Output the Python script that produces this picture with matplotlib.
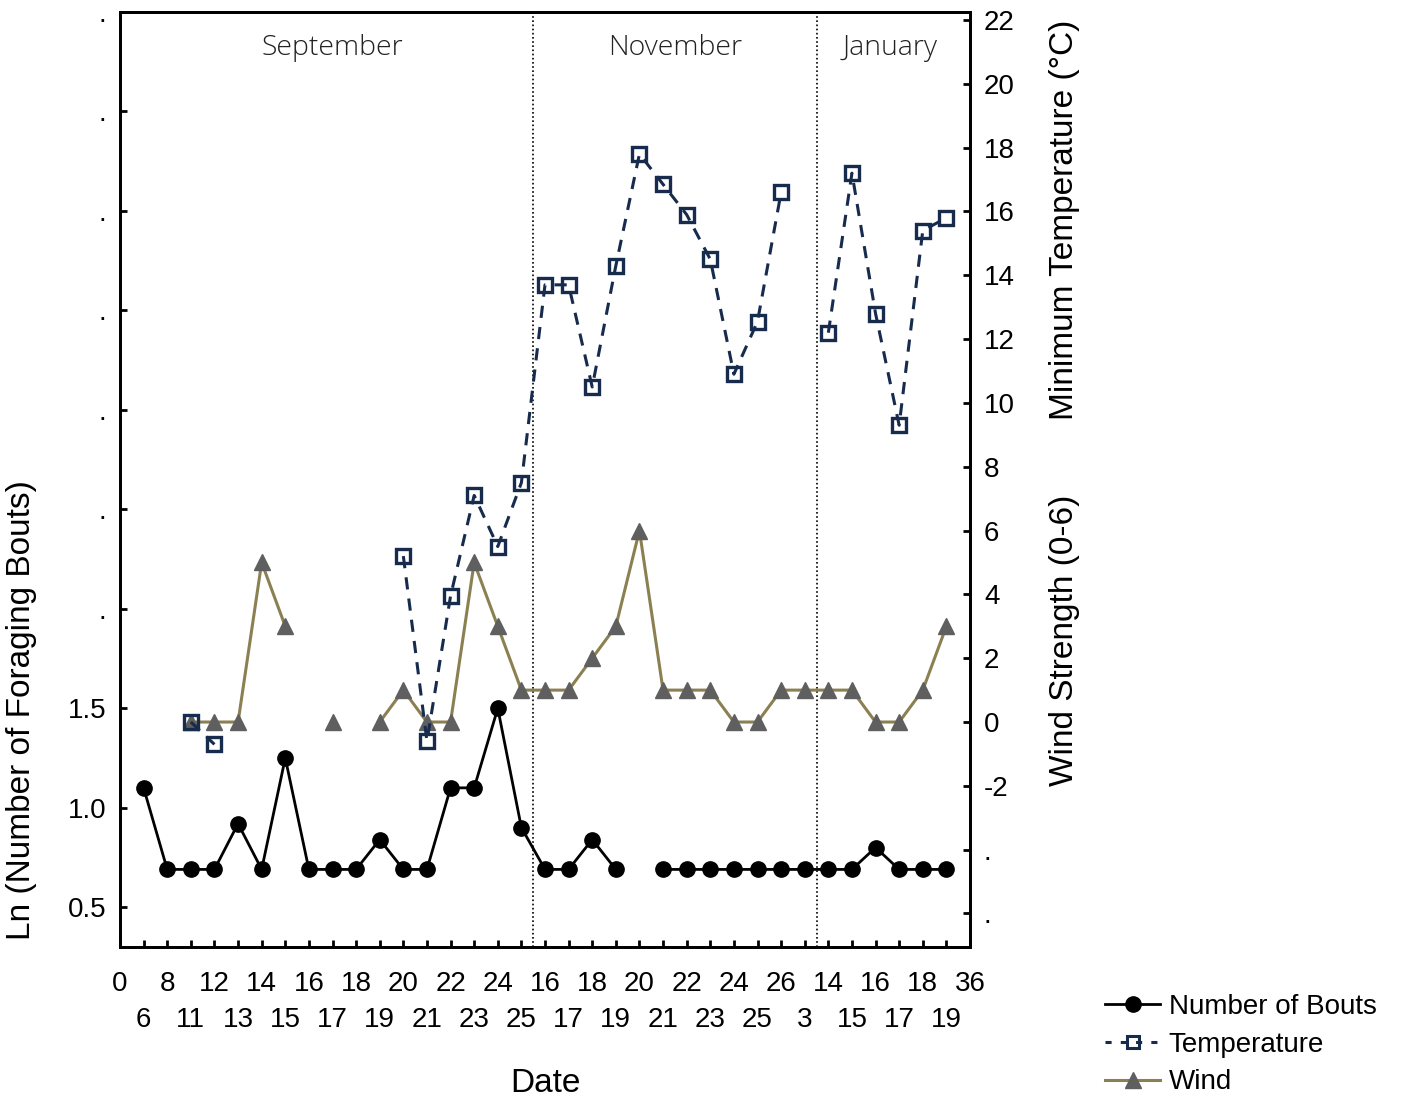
import numpy as np
import matplotlib
matplotlib.use('Agg')
import matplotlib.pyplot as plt
from matplotlib.lines import Line2D

nan = np.nan
# x positions 1..35 (0 and 36 are the axis ends)
pos = np.arange(1, 36)
# Ln(number of foraging bouts)
bouts = [1.10, 0.69, 0.69, 0.69, 0.92, 0.69, 1.25, 0.69, 0.69, 0.69, 0.84, 0.69,
         0.69, 1.10, 1.10, 1.50, 0.90, 0.69, 0.69, 0.84, 0.69, nan, 0.69, 0.69,
         0.69, 0.69, 0.69, 0.69, 0.69, 0.69, 0.69, 0.80, 0.69, 0.69, 0.69]
# minimum temperature (deg C)
temp = [nan, nan, 0.0, -0.7, nan, nan, nan, nan, nan, nan, nan, 5.2,
        -0.6, 3.95, 7.1, 5.5, 7.5, 13.7, 13.7, 10.5, 14.3, 17.8, 16.85, 15.9,
        14.5, 10.9, 12.55, 16.6, nan, 12.2, 17.2, 12.8, 9.3, 15.4, 15.8]
# wind strength (0-6)
wind = [nan, nan, 0, 0, 0, 5, 3, nan, 0, nan, 0, 1,
        0, 0, 5, 3, 1, 1, 1, 2, 3, 6, 1, 1,
        1, 0, 0, 1, 1, 1, 1, 0, 0, 1, 3]

# tick labels along the date axis: upper row at even positions, lower row at odd
upper_labels = ['0', '8', '12', '14', '16', '18', '20', '22', '24', '16',
                '18', '20', '22', '24', '26', '14', '16', '18', '36']
lower_labels = ['6', '11', '13', '15', '17', '19', '21', '23', '25',
                '17', '19', '21', '23', '25', '3', '15', '17', '19']
months = ['September', 'November', 'January']
month_x = [9.0, 23.5, 32.6]
month_breaks = [17.5, 29.5]

plt.rcParams['font.family'] = ['Liberation Sans', 'DejaVu Sans']

fig = plt.figure(figsize=(14.05, 11.02), dpi=100)
ax = fig.add_axes([120/1405, 1-947/1102, 850/1405, 935/1102])
ax2 = ax.twinx()

navy = '#172b4d'
olive = '#8b8052'

ax2.plot(pos, wind, color=olive, lw=2.2, marker='^', ms=12,
         mfc='#5f5f5f', mec='#5f5f5f', zorder=3)
ax2.plot(pos, temp, color=navy, lw=2.2, ls=(0, (4, 3)), marker='s', ms=10.5,
         mfc='none', mec=navy, mew=2.4, zorder=4)
ax.plot(pos, bouts, color='black', lw=2.0, marker='o', ms=11, zorder=3)

for b in month_breaks:
    ax.axvline(b, color='black', lw=1.2, ls=(0, (1, 1.5)))

ax.set_xlim(0, 36)
ax.set_ylim(0.3, 5.0)
ax2.set_ylim(-7.05, 22.25)

ax.set_xticks(np.arange(0, 37, 2))
ax.set_xticklabels(upper_labels)
ax.set_xticks(np.arange(1, 36, 2), minor=True)
ax.set_xticklabels(lower_labels, minor=True)
lt = np.arange(0.5, 5.01, 0.5)
ax.set_yticks(lt)
ax.set_yticklabels(['0.5', '1.0', '1.5'] + ['.'] * (len(lt) - 3))
rt = np.arange(-6, 23, 2)
ax2.set_yticks(rt)
ax2.set_yticklabels(['.', '.'] + [str(v) for v in rt[2:]])

for a in (ax, ax2):
    a.tick_params(which='both', direction='in', length=5, width=2, labelsize=20, pad=10)
    for s in a.spines.values():
        s.set_linewidth(2)
ax.tick_params(axis='x', which='major', pad=17)
ax.tick_params(axis='x', which='minor', pad=43.5)
ax.tick_params(axis='y', right=False)

for name, x in zip(months, month_x):
    ax.text(x, 1-22/935, name, transform=ax.get_xaxis_transform(), ha='center', va='top',
            fontsize=20.5, family=['Open Sans', 'DejaVu Sans'], fontweight='light', color='#222222')

fig.text(22/1405, 1-710/1102, 'Ln (Number of Foraging Bouts)', rotation=90,
         ha='center', va='center', fontsize=24)
fig.text(1065/1405, 1-220/1102, 'Minimum Temperature (°C)', rotation=90,
         ha='center', va='center', fontsize=24)
fig.text(1065/1405, 1-640/1102, 'Wind Strength (0-6)', rotation=90,
         ha='center', va='center', fontsize=24)
fig.text(545/1405, 1-1083/1102, 'Date', ha='center', va='center', fontsize=24)

handles = [
    Line2D([], [], color='black', lw=2, marker='o', ms=11),
    Line2D([], [], color=navy, lw=2.2, ls=(0, (2, 3)), marker='s', ms=9, mfc='none', mew=2.2),
    Line2D([], [], color=olive, lw=2.2, marker='^', ms=12, mfc='#5f5f5f', mec='#5f5f5f'),
]
fig.legend(handles, ['Number of Bouts', 'Temperature', 'Wind'], loc='upper left',
           bbox_to_anchor=(1091/1405, 1-980/1102), frameon=False, fontsize=20,
           handlelength=2.0, handletextpad=0.3, labelspacing=0.42, borderpad=0)

fig.savefig('out.png', dpi=100)
